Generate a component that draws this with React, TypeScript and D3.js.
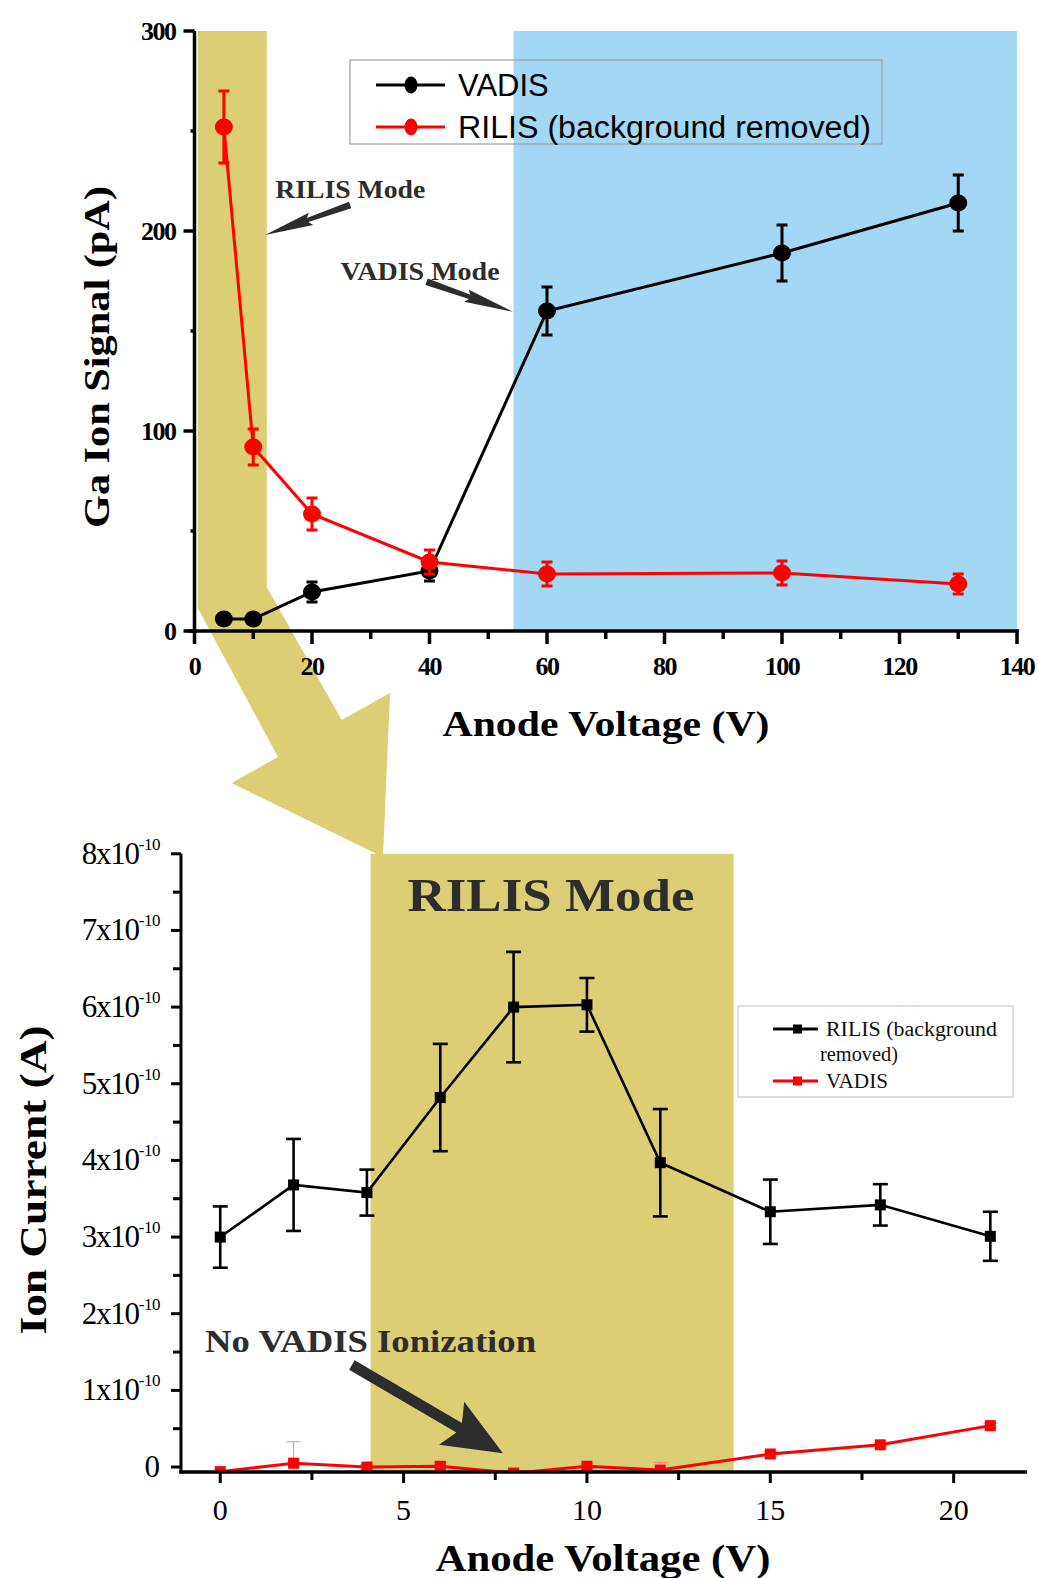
import React from 'react';
import * as d3 from 'd3';

const W = 1039;
const H = 1578;

// Upper panel: Ga ion signal (pA) against anode voltage (V)
const topVoltage = [5, 10, 20, 40, 60, 100, 130];
const topVadis = [6, 6, 19.5, 30, 160, 189, 214];
const topVadisErr = [2.5, 2.5, 5, 5, 12, 14, 14];
const topRilis = [252, 92, 58.5, 34.5, 28.5, 29, 23.5];
const topRilisErr = [18, 9, 8, 6, 6, 6, 5];
const topXTicks = [0, 20, 40, 60, 80, 100, 120, 140];
const topXMinor = [10, 30, 50, 70, 90, 110, 130];
const topYTicks = [0, 100, 200, 300];
const topYMinor = [50, 150, 250];

// Lower panel: ion current (A) against anode voltage (V)
const botVoltage = [0, 2, 4, 6, 8, 10, 12, 15, 18, 21];
const botRilis = [3.0e-10, 3.68e-10, 3.58e-10, 4.82e-10, 6.0e-10, 6.03e-10, 3.97e-10, 3.33e-10, 3.42e-10, 3.01e-10];
const botRilisErr = [0.4e-10, 0.6e-10, 0.3e-10, 0.7e-10, 0.72e-10, 0.35e-10, 0.7e-10, 0.42e-10, 0.27e-10, 0.32e-10];
const botVadis = [-0.06e-10, 0.05e-10, 0.0, 0.01e-10, -0.08e-10, 0.01e-10, -0.04e-10, 0.17e-10, 0.29e-10, 0.54e-10];
const botVadisErr = [0.02e-10, 0.28e-10, 0.03e-10, 0.05e-10, 0.07e-10, 0.03e-10, 0.1e-10, 0.03e-10, 0.02e-10, 0.03e-10];
const botXTicks = [0, 5, 10, 15, 20];
const botXMinor = [2.5, 7.5, 12.5, 17.5];
const botYTicks = [0, 1e-10, 2e-10, 3e-10, 4e-10, 5e-10, 6e-10, 7e-10, 8e-10];
const botYMinor = [0.5e-10, 1.5e-10, 2.5e-10, 3.5e-10, 4.5e-10, 5.5e-10, 6.5e-10, 7.5e-10];

// shaded operating regions
const topRilisBand = [0.55, 12.3];
const topVadisBand = [54.3, 140];
const botRilisBand = [4.1, 14];

const GOLD = '#dbce74';
const BLUE = '#a3d8f4';
const INK = '#2d2d2d';
const SERIF = '"Liberation Serif", "Times New Roman", serif';
const SANS = '"Liberation Sans", Arial, sans-serif';

// tapered arrow outline from (x1,y1) to (x2,y2); profile is a list of [t, halfWidth]
function arrowShape(x1: number, y1: number, x2: number, y2: number, profile: [number, number][]) {
  const dx = x2 - x1;
  const dy = y2 - y1;
  const len = Math.hypot(dx, dy);
  const nx = -dy / len;
  const ny = dx / len;
  const side = (s: number) => profile.map(([t, w]) => [x1 + dx * t + nx * w * s, y1 + dy * t + ny * w * s]);
  const pts = [...side(1), [x2, y2], ...side(-1).reverse()];
  return 'M' + pts.map((p) => p.join(',')).join('L') + 'Z';
}

export default function App() {
  const xT = d3.scaleLinear().domain([0, 140]).range([194.5, 1017]);
  const yT = d3.scaleLinear().domain([0, 300]).range([631, 31]);
  const xB = d3.scaleLinear().domain([-1.07, 22]).range([181, 1027]);
  const yB = d3.scaleLinear().domain([-0.065e-10, 8e-10]).range([1472, 853.8]);
  const line = d3.line<number[]>();

  const vadisTop = topVoltage.map((v, i) => [xT(v), yT(topVadis[i])]);
  const rilisTop = topVoltage.map((v, i) => [xT(v), yT(topRilis[i])]);
  const rilisBot = botVoltage.map((v, i) => [xB(v), yB(botRilis[i])]);
  const vadisBot = botVoltage.map((v, i) => [xB(v), yB(botVadis[i])]);

  // big gold arrow linking the RILIS band of the upper panel to the lower panel
  const bL = xT(topRilisBand[0]);
  const bR = xT(topRilisBand[1]);
  const goldArrow = [
    [bL, yT(300)],
    [bR, yT(300)],
    [bR, 587],
    [341.7, 720],
    [390, 693],
    [383, 857],
    [231.7, 783],
    [278, 757],
    [bL, 608],
  ];

  const errBars = (xs: number[], ys: number[], es: number[], xs_: any, ys_: any, cap: number, color: string, sw: number, key: string) =>
    xs.map((v, i) => {
      const x = xs_(v);
      const y0 = ys_(ys[i] - es[i]);
      const y1 = ys_(ys[i] + es[i]);
      return (
        <g key={key + i} stroke={color} strokeWidth={sw}>
          <line x1={x} x2={x} y1={y0} y2={y1} />
          <line x1={x - cap / 2} x2={x + cap / 2} y1={y0} y2={y0} />
          <line x1={x - cap / 2} x2={x + cap / 2} y1={y1} y2={y1} />
        </g>
      );
    });

  const thinArrow: [number, number][] = [[0, 3.5], [0.5, 2.2], [0.46, 6.5]];
  const fatArrow: [number, number][] = [[0, 5.5], [0.71, 5.5], [0.66, 25]];

  const bx0 = xB(-1.07);
  const byTop = yB(8e-10);
  const byBase = yB(-0.065e-10);

  return (
    <svg width={W} height={H} style={{ position: 'absolute', left: 0, top: 0, background: '#fff' }}>
      <defs>
        <clipPath id="lowerPlot">
          <rect x={bx0} y={byTop - 20} width={xB(22) - bx0} height={byBase - byTop + 20} />
        </clipPath>
      </defs>
      <rect x={0} y={0} width={W} height={H} fill="#fff" />

      {/* ---------- upper panel ---------- */}
      <rect x={xT(topVadisBand[0])} y={yT(300)} width={xT(topVadisBand[1]) - xT(topVadisBand[0])} height={yT(0) - yT(300)} fill={BLUE} />
      <path d={'M' + goldArrow.map((p) => p.join(',')).join('L') + 'Z'} fill={GOLD} />

      {/* lower panel band (drawn early so the arrow tip meets it) */}
      <rect x={xB(botRilisBand[0])} y={byTop} width={xB(botRilisBand[1]) - xB(botRilisBand[0])} height={byBase - byTop} fill={GOLD} />

      {/* upper axes */}
      <g stroke="#000" strokeWidth={3.5}>
        <line x1={xT(0)} x2={xT(0)} y1={yT(300)} y2={yT(0) + 2} />
        <line x1={xT(0) - 6} x2={xT(140) + 2} y1={yT(0)} y2={yT(0)} />
        {topYTicks.map((t) => (
          <line key={'yt' + t} x1={xT(0) - 11} x2={xT(0)} y1={yT(t)} y2={yT(t)} />
        ))}
        {topYMinor.map((t) => (
          <line key={'ytm' + t} x1={xT(0) - 4} x2={xT(0)} y1={yT(t)} y2={yT(t)} />
        ))}
        {topXTicks.map((t) => (
          <line key={'xt' + t} x1={xT(t)} x2={xT(t)} y1={yT(0)} y2={yT(0) + 13} />
        ))}
        {topXMinor.map((t) => (
          <line key={'xtm' + t} x1={xT(t)} x2={xT(t)} y1={yT(0)} y2={yT(0) + 8} />
        ))}
      </g>
      <g fontFamily={SERIF} fontWeight="bold" fontSize={26} letterSpacing={-1.5} fill="#000">
        {topYTicks.map((t) => (
          <text key={'ytl' + t} x={xT(0) - 19} y={yT(t) + 9} textAnchor="end">{t}</text>
        ))}
        {topXTicks.map((t) => (
          <text key={'xtl' + t} x={xT(t)} y={675} textAnchor="middle">{t}</text>
        ))}
      </g>
      <text x={606} y={736} textAnchor="middle" fontFamily={SERIF} fontWeight="bold" fontSize={36} textLength={327} lengthAdjust="spacingAndGlyphs">Anode Voltage (V)</text>
      <text transform="translate(109,357) rotate(-90)" textAnchor="middle" fontFamily={SERIF} fontWeight="bold" fontSize={36} textLength={342} lengthAdjust="spacingAndGlyphs">Ga Ion Signal (pA)</text>

      {/* upper series */}
      <path d={line(vadisTop) || ''} fill="none" stroke="#000" strokeWidth={3} />
      {errBars(topVoltage, topVadis, topVadisErr, xT, yT, 11, '#000', 3, 'ev')}
      {vadisTop.map(([x, y], i) => (
        <ellipse key={'mv' + i} cx={x} cy={y} rx={9} ry={8.5} fill="#000" />
      ))}
      <path d={line(rilisTop) || ''} fill="none" stroke="#ff0000" strokeWidth={3} />
      {errBars(topVoltage, topRilis, topRilisErr, xT, yT, 11, '#ff0000', 3, 'er')}
      {rilisTop.map(([x, y], i) => (
        <ellipse key={'mr' + i} cx={x} cy={y} rx={9} ry={8.5} fill="#ff0000" />
      ))}

      {/* upper legend */}
      <rect x={350} y={60} width={532} height={84} fill="none" stroke="#a0a0a0" strokeWidth={1.2} />
      <line x1={376} x2={445} y1={85} y2={85} stroke="#000" strokeWidth={3} />
      <ellipse cx={411} cy={85} rx={6.5} ry={8.5} fill="#000" />
      <line x1={376} x2={445} y1={127} y2={127} stroke="#ff0000" strokeWidth={3} />
      <ellipse cx={411} cy={127} rx={6.5} ry={8.5} fill="#ff0000" />
      <g fontFamily={SANS} fontSize={31} fill="#000">
        <text x={458} y={96}>VADIS</text>
        <text x={458} y={138} textLength={413} lengthAdjust="spacingAndGlyphs">RILIS (background removed)</text>
      </g>

      {/* upper annotations */}
      <g fontFamily={SERIF} fontWeight="bold" fontSize={25} fill={INK}>
        <text x={xT(26.5)} y={yT(216.5)} textAnchor="middle" textLength={150} lengthAdjust="spacingAndGlyphs">RILIS Mode</text>
        <text x={xT(38.4)} y={yT(175.5)} textAnchor="middle" textLength={159} lengthAdjust="spacingAndGlyphs">VADIS Mode</text>
      </g>
      <path d={arrowShape(xT(26.5), yT(213), xT(12.0), yT(198), thinArrow)} fill={INK} />
      <path d={arrowShape(xT(39.5), yT(174.6), xT(54.2), yT(159.6), thinArrow)} fill={INK} />

      {/* ---------- lower panel ---------- */}
      <text x={xB(9.02)} y={yB(7.25e-10)} textAnchor="middle" fontFamily={SERIF} fontWeight="bold" fontSize={46} fill={INK} textLength={287} lengthAdjust="spacingAndGlyphs">RILIS Mode</text>

      <g stroke="#000" strokeWidth={3}>
        <line x1={bx0} x2={bx0} y1={byTop} y2={byBase + 1.5} />
        <line x1={bx0 - 1.5} x2={xB(22)} y1={byBase} y2={byBase} />
        {botYTicks.map((t, i) => (
          <line key={'byt' + i} x1={bx0 - 10} x2={bx0} y1={yB(t)} y2={yB(t)} />
        ))}
        {botYMinor.map((t, i) => (
          <line key={'bytm' + i} x1={bx0 - 8} x2={bx0} y1={yB(t)} y2={yB(t)} />
        ))}
        {botXTicks.map((t) => (
          <line key={'bxt' + t} x1={xB(t)} x2={xB(t)} y1={byBase} y2={byBase + 11} />
        ))}
        {botXMinor.map((t) => (
          <line key={'bxtm' + t} x1={xB(t)} x2={xB(t)} y1={byBase} y2={byBase + 8} />
        ))}
      </g>
      <g fontFamily={SERIF} fill="#000">
        {botYTicks.map((t, i) => {
          const n = Math.round(t * 1e10);
          return n === 0 ? (
            <text key={'bytl' + i} x={160} y={yB(t) + 10} textAnchor="end" fontSize={31}>0</text>
          ) : (
            <text key={'bytl' + i} x={160} y={yB(t) + 10} textAnchor="end" fontSize={31} letterSpacing={-1.2}>
              {n + 'x10'}
              <tspan fontSize={17} dy={-14} letterSpacing={-0.5}>-10</tspan>
            </text>
          );
        })}
        {botXTicks.map((t) => (
          <text key={'bxtl' + t} x={xB(t)} y={1520} textAnchor="middle" fontSize={30}>{t}</text>
        ))}
      </g>
      <text x={603} y={1571} textAnchor="middle" fontFamily={SERIF} fontWeight="bold" fontSize={38} textLength={335} lengthAdjust="spacingAndGlyphs">Anode Voltage (V)</text>
      <text transform="translate(46,1180) rotate(-90)" textAnchor="middle" fontFamily={SERIF} fontWeight="bold" fontSize={38} textLength={309} lengthAdjust="spacingAndGlyphs">Ion Current (A)</text>

      {/* lower series */}
      <g clipPath="url(#lowerPlot)">
        {errBars(botVoltage, botVadis, botVadisErr, xB, yB, 14, '#ff8a8a', 1, 'bev')}
        <path d={line(vadisBot) || ''} fill="none" stroke="#ff0000" strokeWidth={3} />
        {vadisBot.map(([x, y], i) => (
          <rect key={'bmv' + i} x={x - 5.5} y={y - 5.5} width={11} height={11} fill="#ff0000" />
        ))}
        <path d={line(rilisBot) || ''} fill="none" stroke="#000" strokeWidth={2.6} />
        {errBars(botVoltage, botRilis, botRilisErr, xB, yB, 15, '#000', 2.6, 'ber')}
        {rilisBot.map(([x, y], i) => (
          <rect key={'bmr' + i} x={x - 5.5} y={y - 5.5} width={11} height={11} fill="#000" />
        ))}
      </g>
      <line x1={bx0 - 1.5} x2={xB(22)} y1={byBase} y2={byBase} stroke="#000" strokeWidth={3} />

      {/* lower annotation */}
      <text x={xB(4.1)} y={yB(1.5e-10)} textAnchor="middle" fontFamily={SERIF} fontWeight="bold" fontSize={31} fill={INK} textLength={331} lengthAdjust="spacingAndGlyphs">No VADIS Ionization</text>
      <path d={arrowShape(xB(3.59), yB(1.33e-10), xB(7.71), yB(0.18e-10), fatArrow)} fill={INK} />

      {/* lower legend */}
      <rect x={738} y={1006} width={275} height={91} fill="#fff" stroke="#c8c8c8" strokeWidth={1.2} />
      <line x1={773} x2={818} y1={1029} y2={1029} stroke="#000" strokeWidth={3} />
      <rect x={793} y={1024.5} width={9} height={9} fill="#000" />
      <line x1={773} x2={818} y1={1081} y2={1081} stroke="#ff0000" strokeWidth={3} />
      <rect x={793} y={1076.5} width={9} height={9} fill="#ff0000" />
      <g fontFamily={SERIF} fontSize={20} fill="#111">
        <text x={826} y={1036} textLength={171} lengthAdjust="spacingAndGlyphs">RILIS (background</text>
        <text x={820} y={1061} textLength={78} lengthAdjust="spacingAndGlyphs">removed)</text>
        <text x={826} y={1088} textLength={62} lengthAdjust="spacingAndGlyphs">VADIS</text>
      </g>
    </svg>
  );
}
